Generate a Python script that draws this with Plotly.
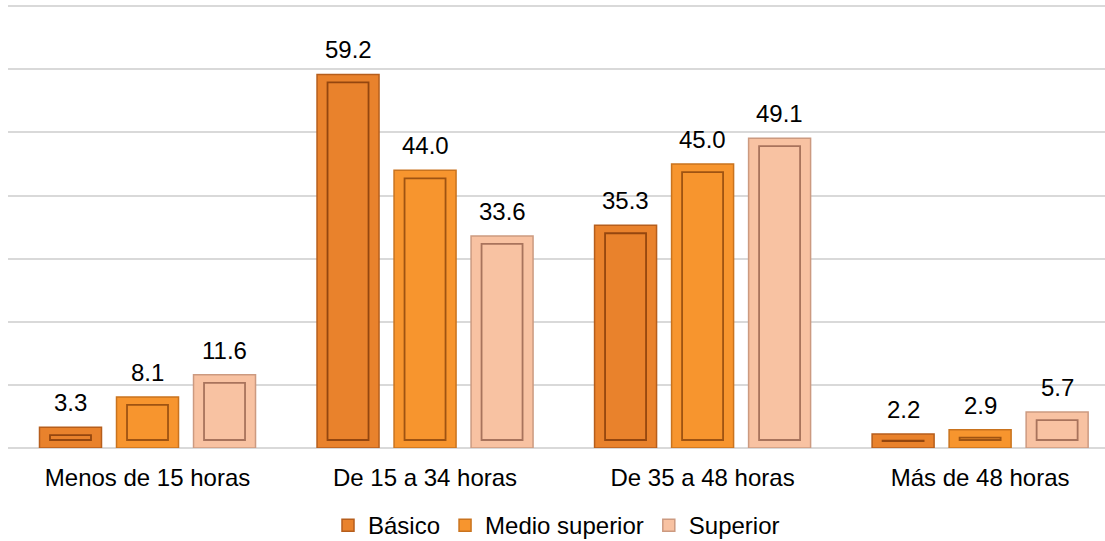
import plotly.graph_objects as go

categories = ["Menos de 15 horas", "De 15 a 34 horas", "De 35 a 48 horas", "Más de 48 horas"]
series_names = ["Básico", "Medio superior", "Superior"]
basico = [3.3, 59.2, 35.3, 2.2]
medio_superior = [8.1, 44.0, 45.0, 2.9]
superior = [11.6, 33.6, 49.1, 5.7]
y_ticks = [0, 10, 20, 30, 40, 50, 60, 70]

series_values = [basico, medio_superior, superior]
fill_colors = ["#E9822C", "#F7952E", "#F8C2A2"]
edge_colors = ["#B65E1C", "#C9731E", "#CC9A80"]
inner_colors = ["#94460F", "#9E5312", "#A8735C"]

FONT = "Liberation Sans, Arial, sans-serif"
FS = 24
W, H = 1105, 541
ml, mr, mt, mb = 8, 0, 5, 93
plot_w = W - ml - mr
plot_h = H - mt - mb

x_lo, x_hi = -0.5027, 3.45
y_lo, y_hi = 0, 70.2
px_per_x = plot_w / (x_hi - x_lo)
px_per_y = plot_h / (y_hi - y_lo)

slot = 0.2775
bar_w = 0.2234
inset_x = 10.5 / px_per_x
inset_y = 8.0 / px_per_y

xs = list(range(len(categories)))
fig = go.Figure()
for i, (name, vals) in enumerate(zip(series_names, series_values)):
    center = (i - 1) * slot
    fig.add_trace(go.Bar(
        x=xs, y=vals, name=name,
        width=bar_w, offset=center - bar_w / 2,
        marker=dict(color=fill_colors[i], line=dict(color=edge_colors[i], width=1.5)),
        hoverinfo="skip",
    ))
    inner_w = bar_w - 2 * inset_x
    inner_h = [max(v - 2 * inset_y, 0.05) for v in vals]
    inner_base = [min(inset_y, v / 2) for v in vals]
    fig.add_trace(go.Bar(
        x=xs, y=inner_h, base=inner_base, showlegend=False,
        width=inner_w, offset=center - inner_w / 2,
        marker=dict(color="rgba(0,0,0,0)", line=dict(color=inner_colors[i], width=1.8)),
        hoverinfo="skip",
    ))
    for xi, v in zip(xs, vals):
        fig.add_annotation(
            x=xi + center, y=v, text=f"{v:.1f}", showarrow=False,
            xanchor="center", yanchor="bottom", yshift=9,
            font=dict(family=FONT, size=FS, color="#000000"),
        )

fig.update_layout(
    width=W, height=H,
    margin=dict(l=ml, r=mr, t=mt, b=mb, autoexpand=False),
    barmode="overlay",
    plot_bgcolor="white", paper_bgcolor="white",
    font=dict(family=FONT, size=FS, color="#000000"),
    showlegend=True,
    legend=dict(orientation="h", x=0.5, xanchor="center", y=-0.175, yanchor="middle",
                font=dict(family=FONT, size=FS, color="#000000"),
                itemwidth=30, traceorder="normal"),
    xaxis=dict(range=[x_lo, x_hi], tickmode="array", tickvals=xs, ticktext=categories,
               showgrid=False, zeroline=False, showline=False, automargin=False,
               ticks="outside", ticklen=8, tickcolor="rgba(0,0,0,0)",
               tickfont=dict(family=FONT, size=FS, color="#000000")),
    yaxis=dict(range=[y_lo, y_hi], tickmode="array", tickvals=y_ticks, showticklabels=False,
               automargin=False,
               showgrid=True, gridcolor="#D9D9D9", gridwidth=2,
               zeroline=True, zerolinecolor="#D9D9D9", zerolinewidth=2, showline=False),
)

fig.write_html("out.html", config={"displayModeBar": False},
               post_script="document.body.style.margin='0';document.body.style.overflow='hidden';")
